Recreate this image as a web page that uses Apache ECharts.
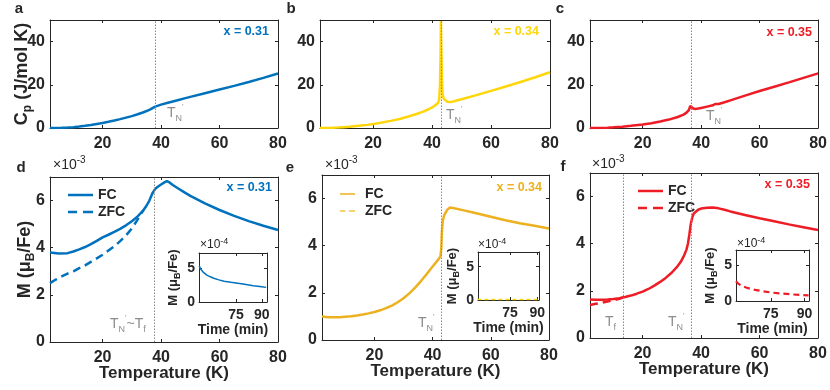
<!DOCTYPE html>
<html>
<head>
<meta charset="utf-8">
<script src="https://cdn.jsdelivr.net/npm/echarts@6/dist/echarts.min.js"></script>
<style>
  html, body { margin: 0; padding: 0; background: #fff; }
  #chart { width: 830px; height: 390px; }
</style>
</head>
<body>
<div id="chart"></div>
<script>
// specific heat C_p (J/mol K) against temperature (K)
const cp31 = [[2,0],[4,0.02],[6,0.08],[8,0.2],[10,0.38],[12,0.65],[14,1.0],[16,1.4],[18,1.85],[20,2.3],[22,2.85],[24,3.45],[26,4.1],[28,4.8],[30,5.5],[32,6.35],[34,7.3],[36,8.4],[38,9.9],[40,10.8],[42,11.6],[44,12.3],[46,13.0],[48,13.7],[50,14.4],[55,16.1],[60,17.8],[65,19.5],[70,21.3],[75,23.2],[80,25.2]];
const cp34 = [[2,0],[5,0.05],[8,0.2],[10,0.4],[12,0.6],[15,1.0],[18,1.45],[20,1.8],[23,2.5],[26,3.3],[29,4.2],[32,5.3],[35,6.6],[37,7.6],[39,8.8],[40,9.5],[41,10.4],[42,11.6],[42.4,13],[42.7,20],[42.9,35],[43,49.5],[43.15,38],[43.35,22],[43.6,15.5],[44,13.4],[44.6,12.6],[45.2,12.2],[45.8,11.7],[46.5,12.0],[47,12.3],[48,12.6],[50,13.3],[55,15.2],[60,17.2],[65,19.2],[70,21.3],[75,23.5],[80,25.8]];
const cp35 = [[2,0],[5,0.05],[8,0.15],[10,0.3],[13,0.6],[16,1.0],[20,1.6],[23,2.2],[26,3.0],[29,3.9],[32,5.1],[34,6.2],[35,7.1],[35.8,8.3],[36.3,10.2],[36.6,10.8],[36.9,10.0],[37.3,9.0],[38,8.8],[39,9.0],[40,9.3],[42,9.9],[44,10.5],[44.8,11.1],[45.3,10.9],[46,11.1],[48,11.9],[50,12.8],[55,15.0],[60,17.1],[65,19.1],[70,21.1],[75,23.2],[80,25.3]];

// magnetisation M (1e-3 muB/Fe) against temperature (K)
const fc31 = [[2,3.8],[5,3.75],[8,3.77],[10,3.84],[12,3.93],[14,4.03],[16,4.15],[18,4.29],[20,4.44],[22,4.55],[24,4.67],[26,4.8],[28,4.95],[30,5.12],[32,5.33],[34,5.6],[35,5.78],[36,6.0],[37,6.3],[38,6.5],[39,6.6],[40,6.68],[41,6.76],[42,6.83],[43,6.76],[44,6.66],[46,6.5],[48,6.35],[50,6.2],[55,5.88],[60,5.6],[65,5.35],[70,5.13],[75,4.93],[80,4.75]];
const zfc31 = [[2,2.5],[4,2.65],[6,2.78],[8,2.9],[10,3.0],[12,3.13],[14,3.25],[16,3.4],[18,3.55],[20,3.7],[22,3.88],[24,4.06],[26,4.28],[28,4.52],[30,4.82],[32,5.2],[33,5.42],[34,5.6]];
const fc34 = [[2,1.0],[4,0.97],[6,0.96],[8,0.97],[10,0.99],[12,1.01],[14,1.04],[16,1.08],[18,1.13],[20,1.19],[22,1.26],[24,1.35],[26,1.46],[28,1.6],[30,1.77],[32,1.98],[34,2.22],[36,2.5],[38,2.8],[40,3.12],[41,3.27],[42,3.42],[42.7,3.55],[43,3.9],[43.2,4.6],[43.5,5.05],[44,5.3],[45,5.52],[46,5.62],[47,5.6],[50,5.52],[55,5.38],[60,5.23],[65,5.08],[70,4.95],[75,4.85],[80,4.73]];
const zfc34 = [];
const fc35 = [[2,1.63],[4,1.62],[6,1.62],[8,1.63],[10,1.65],[12,1.69],[14,1.74],[16,1.8],[18,1.88],[20,1.97],[22,2.08],[24,2.22],[26,2.38],[28,2.56],[30,2.78],[32,3.05],[33,3.22],[34,3.45],[35,3.75],[35.5,4.0],[36,4.4],[36.5,4.85],[37,5.12],[37.5,5.28],[38,5.36],[39,5.44],[40,5.49],[42,5.53],[44,5.54],[46,5.5],[48,5.44],[50,5.37],[55,5.22],[60,5.08],[65,4.95],[70,4.82],[75,4.7],[80,4.58]];
const zfc35 = [[2,1.4],[4,1.45],[6,1.5],[8,1.55],[10,1.6],[12,1.66],[13.5,1.73]];

// relaxation M (1e-4 muB/Fe) against time (min), insets
const relax31 = [[53.5,5.3],[54.5,4.8],[56,4.35],[58,3.95],[60,3.7],[62,3.5],[65,3.25],[68,3.05],[72,2.9],[75,2.8],[80,2.6],[85,2.4],[90,2.25],[92.5,2.15]];
const relax34 = [[57,0.1],[60,0.08],[65,0.08],[70,0.07],[75,0.07],[80,0.07],[85,0.06],[91,0.06]];
const relax35 = [[59.5,2.8],[60.5,2.45],[62,2.15],[64,1.9],[66,1.72],[68,1.58],[71,1.4],[75,1.2],[80,1.05],[85,0.92],[91.8,0.8]];

// transition temperatures (K)
const tNcp = [38, 43, 36.5];
const tNm = [37.5, 43, 36.5];
const tF35 = 13.5;

// ticks and labels
const tempTicks = [20, 40, 60, 80];
const cpTicks = [0, 20, 40];
const mTicks = [0, 2, 4, 6];
const timeTicks = [75, 90];
const relaxTicks = [0, 5];
const samples = ['x = 0.31', 'x = 0.34', 'x = 0.35'];
const letters = ['a', 'b', 'c', 'd', 'e', 'f'];

const font = '"Liberation Sans", Arial, sans-serif';
const ink = '#262626';
const grey = '#8c8c8c';
const blue = '#0072BD', yellow = '#FFD60A', amber = '#EDB120', red = '#EE1C25';
const solidIcon = 'path://M0,0h25v2.5h-25z';
const dashIcon = 'path://M0,0h9v2.5h-9z M15,0h10v2.5h-10z';

let grid = [], xAxis = [], yAxis = [], series = [], legend = [], graphic = [];

function tickAxis(gi, pos, min, max, ticks, lab) {
  return {
    gridIndex: gi, type: 'value', position: pos, min: min, max: max,
    splitLine: {show: false},
    nameMoveOverlap: false,
    axisLine: {onZero: false, lineStyle: {color: ink, width: 1}},
    axisTick: {inside: true, length: 3, customValues: ticks, lineStyle: {color: ink}},
    axisLabel: lab ? Object.assign({customValues: ticks, color: ink, fontFamily: font, fontWeight: 'bold'}, lab) : {show: false}
  };
}

function addGrid(box, xr, yr, xt, yt, fs, bg) {
  let gi = grid.length;
  grid.push({left: box[0], top: box[1], width: box[2], height: box[3], show: bg, backgroundColor: '#fff', borderWidth: 0});
  xAxis.push(tickAxis(gi, 'bottom', xr[0], xr[1], xt, {fontSize: fs, margin: 8}));
  xAxis.push(tickAxis(gi, 'top', xr[0], xr[1], xt, null));
  yAxis.push(tickAxis(gi, 'left', yr[0], yr[1], yt, {fontSize: fs, margin: 5}));
  yAxis.push(tickAxis(gi, 'right', yr[0], yr[1], yt, null));
  return gi;
}

function line(gi, name, data, color, width, dash) {
  return {
    type: 'line', name: name, xAxisIndex: 2 * gi, yAxisIndex: 2 * gi, data: data,
    symbol: 'none', showSymbol: false, z: 3,
    lineStyle: {color: color, width: width, type: dash || 'solid'},
    itemStyle: {color: color}
  };
}

function vlines(values) {
  return {
    silent: true, symbol: 'none', animation: false, label: {show: false},
    lineStyle: {color: '#8a8a8a', type: [1.5, 1.5], width: 1},
    data: values.map(v => ({xAxis: v}))
  };
}

function text(x, y, str, style) {
  graphic.push({type: 'text', x: x, y: y, z: 10, silent: true,
    style: Object.assign({text: str, fontFamily: font, fill: ink}, style)});
}

const subRich = {
  t: {fontSize: 14, fill: grey, fontFamily: font, lineHeight: 20},
  s: {fontSize: 9, fill: grey, fontFamily: font, verticalAlign: 'bottom', lineHeight: 10},
  p: {fontSize: 8, fill: grey, fontFamily: font, verticalAlign: 'top', lineHeight: 10}
};
const expRich = {
  m: {fontSize: 14, fill: ink, fontFamily: font, lineHeight: 20},
  e: {fontSize: 10, fill: ink, fontFamily: font, verticalAlign: 'top', lineHeight: 10}
};
const nameRich = {
  c: {fontSize: 18, fontWeight: 'bold', color: ink, fontFamily: font, lineHeight: 24},
  s: {fontSize: 12, fontWeight: 'bold', color: ink, fontFamily: font, verticalAlign: 'bottom', lineHeight: 13}
};
const inName = {
  c: {fontSize: 13, fontWeight: 'bold', color: ink, fontFamily: font, lineHeight: 18},
  s: {fontSize: 9, fontWeight: 'bold', color: ink, fontFamily: font, verticalAlign: 'bottom', lineHeight: 10}
};
const mName = '{c|M (}{c|\u03bc}{s|B}{c|/Fe)}';

// top row: specific heat
const cpData = [cp31, cp34, cp35];
const cpColor = [blue, yellow, red];
const cpBox = [[50, 20, 228, 108], [320, 20, 230, 108], [590, 20, 229, 108]];
cpBox.forEach((b, i) => {
  let gi = addGrid(b, [2, 80], [0, 50], tempTicks, cpTicks, 16, false);
  let s = line(gi, 'cp' + i, cpData[i], cpColor[i], 2.5);
  s.markLine = vlines([tNcp[i]]);
  series.push(s);
});
yAxis[0].name = '{c|C}{s|p}{c| (J/mol K)}';
yAxis[0].nameLocation = 'middle';
yAxis[0].nameGap = 16;
yAxis[0].nameTextStyle = {rich: nameRich};

// bottom row: magnetisation
const fcData = [fc31, fc34, fc35];
const zfcData = [zfc31, zfc34, zfc35];
const mColor = [blue, amber, red];
const mBox = [[50, 177, 228, 165], [322, 175, 227, 165], [590, 173, 228, 165]];
const legPos = [[63, 182], [335, 181], [633, 178]];
const suffix = ['', ' ', '  '];
mBox.forEach((b, i) => {
  let gi = addGrid(b, [2, 80], [0, 7], tempTicks, mTicks, 16, false);
  xAxis[2 * gi].name = 'Temperature (K)';
  xAxis[2 * gi].nameLocation = 'middle';
  xAxis[2 * gi].nameGap = 23;
  xAxis[2 * gi].nameTextStyle = {fontSize: 17, fontWeight: 'bold', color: ink, fontFamily: font};
  let fc = line(gi, 'FC' + suffix[i], fcData[i], mColor[i], 2.5);
  fc.markLine = vlines(i === 2 ? [tF35, tNm[i]] : [tNm[i]]);
  series.push(fc);
  series.push(line(gi, 'ZFC' + suffix[i], zfcData[i], i === 1 ? '#F5C542' : mColor[i], i === 1 ? 1.5 : 2.5, [8, 5]));
  legend.push({
    left: legPos[i][0], top: legPos[i][1], orient: 'vertical', itemGap: 1,
    itemWidth: 25, itemHeight: i === 1 ? 1.5 : 2.5, selectedMode: false,
    data: [{name: 'FC' + suffix[i], icon: solidIcon}, {name: 'ZFC' + suffix[i], icon: dashIcon}],
    formatter: n => n.trim(),
    textStyle: {fontSize: 14, fontWeight: 'bold', color: ink, fontFamily: font, lineHeight: 16}
  });
});
yAxis[6].name = mName;
yAxis[6].nameLocation = 'middle';
yAxis[6].nameGap = 13;
yAxis[6].nameTextStyle = {rich: nameRich};

// insets: relaxation
const relaxData = [relax31, relax34, relax35];
const inBox = [[199, 253, 68, 49], [478, 252, 61, 48], [736, 250, 73, 51]];
const inRange = [[53.4, 93], [57.3, 91], [59.5, 92]];
const inDash = ['solid', [4, 3], [6, 4]];
const inWidth = [1.5, 1.5, 2.2];
inBox.forEach((b, i) => {
  let gi = addGrid(b, inRange[i], [0, 7.2], timeTicks, relaxTicks, 14, true);
  xAxis[2 * gi].name = 'Time (min)';
  xAxis[2 * gi].nameLocation = 'middle';
  xAxis[2 * gi].nameGap = 21;
  xAxis[2 * gi].nameTextStyle = {fontSize: 14, fontWeight: 'bold', color: ink, fontFamily: font};
  xAxis[2 * gi].axisLabel.margin = 6;
  yAxis[2 * gi].name = mName;
  yAxis[2 * gi].nameLocation = 'middle';
  yAxis[2 * gi].nameGap = 17;
  yAxis[2 * gi].nameTextStyle = {rich: inName};
  yAxis[2 * gi].axisLabel.margin = 4;
  series.push(line(gi, 'relax' + i, relaxData[i], i === 1 ? yellow : mColor[i], inWidth[i], inDash[i]));
});

// panel letters
const letterPos = [[19, 9], [291, 9], [560, 9], [21, 168], [290, 168], [563, 167]];
letters.forEach((l, i) => text(letterPos[i][0], letterPos[i][1], l,
  {fontSize: 15, fontWeight: 'bold', align: 'center', verticalAlign: 'middle'}));

// sample labels
const samplePos = [[269, 32], [539, 32], [812, 33], [272, 188], [542, 188], [810, 185]];
samplePos.forEach((p, i) => text(p[0], p[1], samples[i % 3],
  {fontSize: 12.5, fontWeight: 'bold', fill: [blue, yellow, red, blue, amber, red][i], align: 'right', verticalAlign: 'middle'}));

// exponent markers
[[53, 165], [325, 165], [592, 164]].forEach(p => text(p[0], p[1], '{m|\u00d710}{e|-3}',
  {rich: expRich, align: 'left', verticalAlign: 'middle'}));
[[200, 245], [478, 245], [737, 244]].forEach(p => text(p[0], p[1], '{m|\u00d710}{e|-4}',
  {rich: {m: Object.assign({}, expRich.m, {fontSize: 12, lineHeight: 16}), e: Object.assign({}, expRich.e, {fontSize: 9})},
   align: 'left', verticalAlign: 'middle'}));

// transition labels
const tnLab = "{t|T}{s|N}{p|'}";
[[167, 113], [446, 115], [706, 116], [418, 323], [668, 322]].forEach(p =>
  text(p[0], p[1], tnLab, {rich: subRich, align: 'left', verticalAlign: 'middle'}));
text(110, 324, tnLab + '{t|~T}{s|f}', {rich: subRich, align: 'left', verticalAlign: 'middle'});
text(605, 322, '{t|T}{s|f}', {rich: subRich, align: 'left', verticalAlign: 'middle'});

const chart = echarts.init(document.getElementById('chart'));
chart.setOption({
  animation: false,
  backgroundColor: '#fff',
  grid: grid, xAxis: xAxis, yAxis: yAxis,
  series: series, legend: legend, graphic: graphic
});
</script>
</body>
</html>
